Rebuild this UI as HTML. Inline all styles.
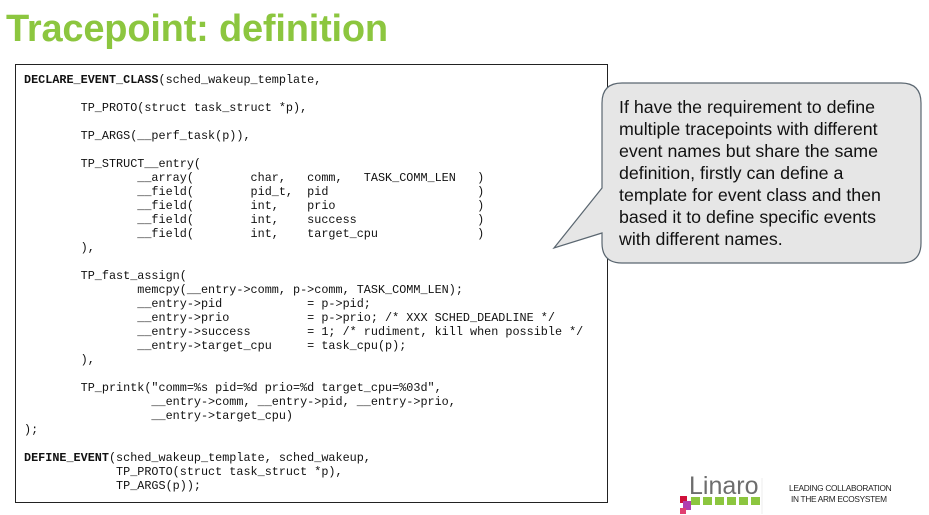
<!DOCTYPE html>
<html><head><meta charset="utf-8"><style>
body{margin:0;width:929px;height:515px;background:#fff;position:relative;overflow:hidden;font-family:"Liberation Sans",sans-serif}
.t{position:absolute;left:6px;top:8px;font-size:38px;font-weight:bold;color:#8cc63f;letter-spacing:-0.2px}
.code{position:absolute;left:15px;top:64px;width:593px;height:439px;border:1px solid #222;box-sizing:border-box}
pre{position:absolute;left:24px;top:73px;margin:0;font-family:"Liberation Mono",monospace;font-size:11.8px;line-height:14px;color:#111}
svg{position:absolute;left:0;top:0}
.ct{position:absolute;left:619px;top:96px;width:300px;font-size:17.8px;line-height:22px;color:#111;white-space:nowrap}
.lt{position:absolute;left:789px;top:483px;font-size:8.3px;line-height:11px;color:#222;letter-spacing:-0.3px}
.lin{position:absolute;left:689px;top:472px;font-size:25px;color:#6d6d6d}
</style></head><body>
<div class="t">Tracepoint: definition</div>
<div class="code"></div>
<pre><b>DECLARE_EVENT_CLASS</b>(sched_wakeup_template,

        TP_PROTO(struct task_struct *p),

        TP_ARGS(__perf_task(p)),

        TP_STRUCT__entry(
                __array(        char,   comm,   TASK_COMM_LEN   )
                __field(        pid_t,  pid                     )
                __field(        int,    prio                    )
                __field(        int,    success                 )
                __field(        int,    target_cpu              )
        ),

        TP_fast_assign(
                memcpy(__entry->comm, p->comm, TASK_COMM_LEN);
                __entry->pid            = p->pid;
                __entry->prio           = p->prio; /* XXX SCHED_DEADLINE */
                __entry->success        = 1; /* rudiment, kill when possible */
                __entry->target_cpu     = task_cpu(p);
        ),

        TP_printk("comm=%s pid=%d prio=%d target_cpu=%03d",
                  __entry->comm, __entry->pid, __entry->prio,
                  __entry->target_cpu)
);

<b>DEFINE_EVENT</b>(sched_wakeup_template, sched_wakeup,
             TP_PROTO(struct task_struct *p),
             TP_ARGS(p));</pre>
<svg width="929" height="515"><path d="M622,83 H901 Q921,83 921,103 V243 Q921,263 901,263 H622 Q602,263 602,243 V233 L554,248 L602,188 V103 Q602,83 622,83 Z" fill="#e6e6e6" stroke="#5a6670" stroke-width="1.2"/>
<rect x="691" y="497" width="9" height="8" fill="#8cc63f"/><rect x="703" y="497" width="9" height="8" fill="#8cc63f"/><rect x="715" y="497" width="9" height="8" fill="#8cc63f"/><rect x="727" y="497" width="9" height="8" fill="#8cc63f"/><rect x="739" y="497" width="9" height="8" fill="#8cc63f"/><rect x="751" y="497" width="9" height="8" fill="#8cc63f"/>
<rect x="680" y="496" width="7" height="7" fill="#d0103a"/><rect x="683" y="501" width="8" height="9" fill="#b03fb0"/><rect x="680" y="508" width="6" height="6" fill="#e04070"/>
<line x1="762" y1="478" x2="762" y2="514" stroke="#eee"/></svg>
<div class="ct">If have the requirement to define<br>multiple tracepoints with different<br>event names but share the same<br>definition, firstly can define a<br>template for event class and then<br>based it to define specific events<br>with different names.</div>
<div class="lin">Linaro</div>
<div class="lt">LEADING COLLABORATION<br>&nbsp;IN THE ARM ECOSYSTEM</div>
</body></html>
